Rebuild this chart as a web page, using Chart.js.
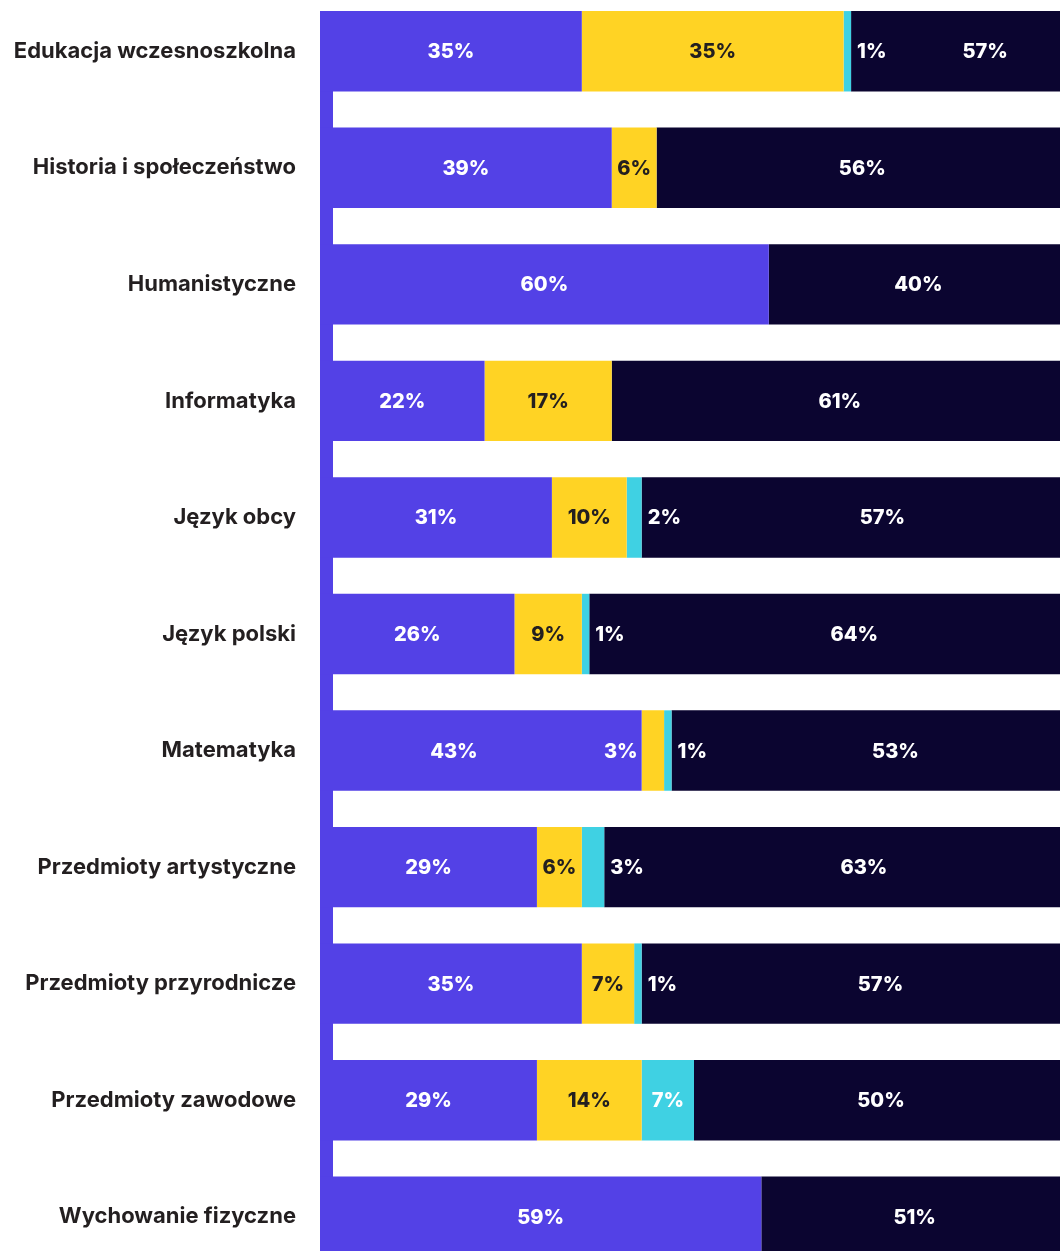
<!DOCTYPE html>
<html>
<head>
  <meta charset="utf-8">
  <title>Przedmioty</title>
  <script src="https://cdn.jsdelivr.net/npm/chart.js@4.4.1/dist/chart.umd.min.js"></script>
  <style>
    html, body { margin: 0; padding: 0; background: #fff; overflow: hidden; }
    #wrap { position: absolute; left: 0; top: -7px; width: 1068px; height: 1282px; }
  </style>
</head>
<body>
  <div id="wrap"><canvas id="bars"></canvas></div>
  <script>
    var categories = [
      'Edukacja wczesnoszkolna',
      'Historia i społeczeństwo',
      'Humanistyczne',
      'Informatyka',
      'Język obcy',
      'Język polski',
      'Matematyka',
      'Przedmioty artystyczne',
      'Przedmioty przyrodnicze',
      'Przedmioty zawodowe',
      'Wychowanie fizyczne'
    ];
    var purpleValues = [35, 39, 60, 22, 31, 26, 43, 29, 35, 29, 59];
    var yellowValues = [35, 6, 0, 17, 10, 9, 3, 6, 7, 14, 0];
    var cyanValues   = [1, 0, 0, 0, 2, 1, 1, 3, 1, 7, 0];
    var navyValues   = [57, 56, 40, 61, 57, 64, 53, 63, 57, 50, 51];

    var PURPLE = '#5341e6';
    var YELLOW = '#ffd324';
    var CYAN = '#3fd1e3';
    var NAVY = '#0b0530';
    var FONT = 'Inter, "Noto Sans", sans-serif';

    // purple strip down the left edge of the bars
    var leftStrip = {
      id: 'leftStrip',
      beforeDatasetsDraw: function(chart) {
        var ctx = chart.ctx, area = chart.chartArea;
        var first = chart.getDatasetMeta(0).data[0];
        var top = first.y - first.height / 2;
        ctx.save();
        ctx.fillStyle = PURPLE;
        ctx.fillRect(area.left, top, 13, area.bottom - top);
        ctx.restore();
      }
    };

    // percentage labels; tiny segments get their label pushed outside
    var segLabels = {
      id: 'segLabels',
      afterDatasetsDraw: function(chart) {
        var ctx = chart.ctx, area = chart.chartArea;
        ctx.save();
        ctx.font = '800 20px ' + FONT;
        ctx.textBaseline = 'middle';
        var n = chart.data.labels.length;
        for (var i = 0; i < n; i++) {
          var items = [];
          chart.data.datasets.forEach(function(ds, d) {
            var v = ds.data[i];
            if (!v) return;
            var bar = chart.getDatasetMeta(d).data[i];
            var x0 = Math.min(bar.base, bar.x), x1 = Math.min(Math.max(bar.base, bar.x), area.right);
            if (x0 >= area.right) return;
            items.push({ d: d, v: v, x0: x0, x1: x1, y: bar.y, text: v + '%', w: ctx.measureText(v + '%').width });
          });
          items.forEach(function(it) {
            if (it.v < 4 && it.d === 2) { it.pos = 'right'; it.lx = it.x1 + 6; }
            else if (it.v < 4 && it.d === 1) { it.pos = 'left'; it.lx = it.x0 - 4 - it.w; }
            else it.pos = 'in';
          });
          items.forEach(function(it, k) {
            if (it.pos !== 'in') return;
            var lo = it.x0, hi = it.x1;
            var prev = items[k - 1], next = items[k + 1];
            if (prev && prev.pos === 'right') lo = prev.lx + prev.w + 16;
            if (next && next.pos === 'left') hi = next.lx - 16;
            it.lx = (lo + hi) / 2 - it.w / 2;
          });
          items.forEach(function(it) {
            ctx.fillStyle = (it.d === 1 && it.pos === 'in') ? '#231f20' : '#ffffff';
            ctx.textAlign = 'left';
            ctx.fillText(it.text, it.lx, it.y + 1);
          });
        }
        ctx.restore();
      }
    };

    var chart = new Chart(document.getElementById('bars'), {
      type: 'bar',
      data: {
        labels: categories,
        datasets: [
          { label: 'A', data: purpleValues, backgroundColor: PURPLE },
          { label: 'B', data: yellowValues, backgroundColor: YELLOW },
          { label: 'C', data: cyanValues, backgroundColor: CYAN },
          { label: 'D', data: navyValues, backgroundColor: NAVY }
        ]
      },
      options: {
        indexAxis: 'y',
        responsive: true,
        maintainAspectRatio: false,
        animation: false,
        layout: { padding: 0 },
        datasets: { bar: { categoryPercentage: 1, barPercentage: 0.69, borderWidth: 0 } },
        plugins: { legend: { display: false }, tooltip: { enabled: false } },
        scales: {
          x: { stacked: true, min: 0, max: 100, display: false },
          y: {
            stacked: true,
            grid: { display: false, drawTicks: false },
            border: { display: false },
            ticks: { padding: 24, color: '#231f20', font: { family: FONT, size: 22, weight: '700' } },
            afterFit: function(scale) {
              scale.width = 320;
              // no extra room above/below the first and last rows
              scale.paddingTop = 0;
              scale.paddingBottom = 0;
            }
          }
        }
      },
      plugins: [leftStrip, segLabels]
    });
  </script>
</body>
</html>
